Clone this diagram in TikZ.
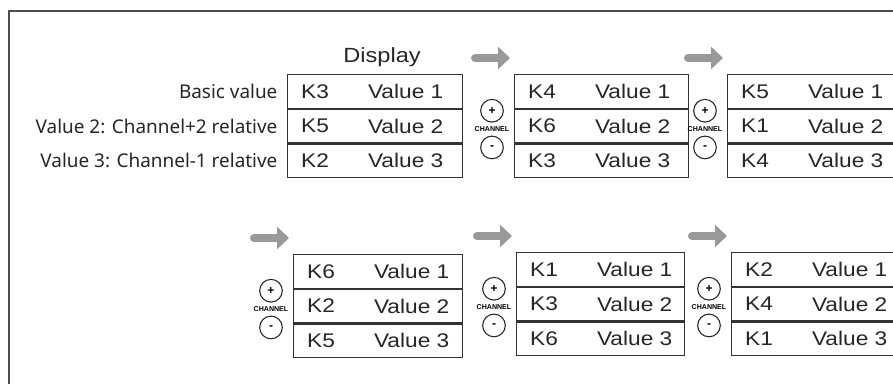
\documentclass[tikz,border=0pt]{standalone}
\usepackage{fontspec}
\setmainfont{Liberation Sans}
\newfontfamily\boxfont[FakeStretch=1.15]{Liberation Sans}
\newfontfamily\labelfont{Noto Sans}
\usetikzlibrary{arrows.meta, positioning, calc}

\begin{document}
\begin{tikzpicture}[
  x=0.75pt, y=-0.75pt,
  frame/.style={draw=black!70, line width=1.1pt},
  rowbox/.style={draw=black!80, line width=0.8pt, minimum height=25.25pt,
                 inner sep=0pt, anchor=north west},
  ktxt/.style={font=\boxfont\fontsize{14.8}{16}\selectfont, text=black!85, inner sep=0pt},
  disp/.style={font=\boxfont\fontsize{15.4}{17}\selectfont, text=black!85, inner sep=0pt},
  side/.style={font=\labelfont\fontsize{14.2}{16}\selectfont, text=black!85,
               anchor=east, inner sep=0pt},
  chbtn/.style={draw=black!85, circle, line width=0.8pt, minimum size=17pt,
                inner sep=0pt, font=\bfseries\fontsize{9}{9}\selectfont},
  chtxt/.style={font=\bfseries\fontsize{5.3}{6}\selectfont, inner sep=0pt},
  steparrow/.style={draw=black!40, line width=6pt, line cap=round,
                    -{Triangle[length=9pt, width=16.5pt]}}
]
  \useasboundingbox (0,0) rectangle (893,384);
  \clip (0,0) rectangle (893,384);

  %--- frame ---
  \draw[frame] (9,384) -- (9,11) -- (893,11);

  %--- display states ---
  \foreach \g/\x/\y/\w/\ka/\kb/\kc in {
      1/287/74/175/K3/K5/K2,
      2/514/74/174/K4/K6/K3,
      3/727/74/175/K5/K1/K4,
      4/293/254/169/K6/K2/K5,
      5/516/252/168/K1/K3/K6,
      6/731/252/170/K2/K4/K1}{
    \node[rowbox, minimum width=\w*0.75pt] (d\g-1) at (\x,\y) {};
    \node[rowbox, minimum width=\w*0.75pt] (d\g-2) at (d\g-1.south west) {};
    \node[rowbox, minimum width=\w*0.75pt] (d\g-3) at (d\g-2.south west) {};
    \node[ktxt] (k\g-1) at ([xshift=21pt]d\g-1.west) {\ka};
    \node[ktxt] (k\g-2) at ([xshift=21pt]d\g-2.west) {\kb};
    \node[ktxt] (k\g-3) at ([xshift=21pt]d\g-3.west) {\kc};
    \node[ktxt] (v\g-1) at ([xshift=89pt]d\g-1.west) {Value 1};
    \node[ktxt] (v\g-2) at ([xshift=89pt]d\g-2.west) {Value 2};
    \node[ktxt] (v\g-3) at ([xshift=89pt]d\g-3.west) {Value 3};
  }

  %--- channel buttons and step arrows ---
  \foreach \g in {2,...,6}{
    \node[chbtn] (p\g) at ([xshift=-16.5pt, yshift=-1.5pt]d\g-2.north west) {+};
    \node[chbtn] (m\g) at ([xshift=-16.5pt, yshift=-3pt]d\g-3.north west) {-};
    \node[chtxt] (c\g) at ($(p\g)!0.5!(m\g)$) {CHANNEL};
    \draw[steparrow] ([xshift=-29.25pt, yshift=12pt]d\g-1.north west)
      -- ([xshift=-3pt, yshift=12pt]d\g-1.north west);
  }

  %--- labels ---
  \node[disp] (title) at (382,57) {Display};
  \node[side] (lab1) at ([xshift=-7pt]d1-1.west) {Basic value};
  \node[side] (lab2) at ([xshift=-7pt]d1-2.west) {Value 2: Channel+2 relative};
  \node[side] (lab3) at ([xshift=-7pt]d1-3.west) {Value 3: Channel-1 relative};
\end{tikzpicture}
\end{document}
